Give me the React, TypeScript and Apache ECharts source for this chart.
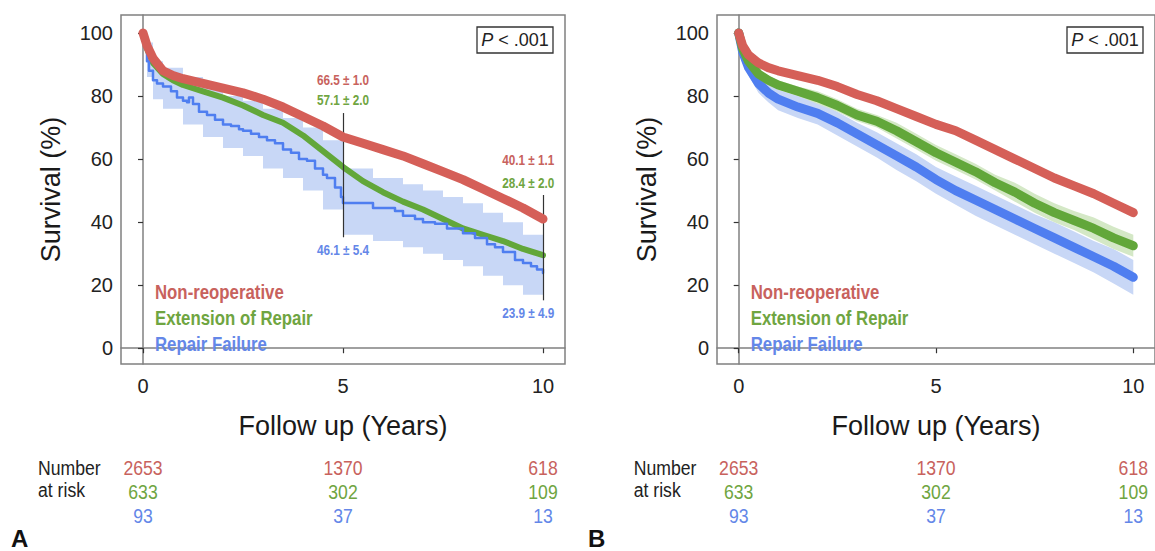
import React, { useEffect, useRef } from "react";
import * as echarts from "echarts";

// ---------- data ----------
const groups = ["Non-reoperative", "Extension of Repair", "Repair Failure"];
const lineColors = ["#d55f58", "#62a73a", "#4f7ef0"];
const textColors = ["#c8625d", "#6fa541", "#6487e8"];
const bandColors = ["#f1c9c4", "#d4e8c6", "#c8d7f6"];

const xTicks = [0, 5, 10];
const yTicks = [0, 20, 40, 60, 80, 100];

// Panel A
const timeA = [0, 0.1, 0.25, 0.5, 0.75, 1, 1.5, 2, 2.5, 3, 3.5, 4, 4.5, 5, 5.5, 6, 6.5, 7, 7.5, 8, 8.5, 9, 9.5, 10];
const redA = [100, 96, 92, 88, 86.5, 85.5, 84, 82.5, 81, 79, 76.5, 73.5, 70.5, 67, 65, 63, 61, 58.5, 56, 53.5, 50.5, 47.5, 44.5, 41];
const greenA = [100, 95, 90.5, 87, 85, 83.5, 81.5, 79.5, 77, 74, 71.5, 67.5, 62.5, 57.5, 53, 49.5, 46.5, 44, 41, 38, 36, 34, 31.5, 29.5];

const blueTimeA = [0, 0.05, 0.1, 0.15, 0.25, 0.35, 0.5, 0.7, 0.85, 1.0, 1.1, 1.15, 1.25, 1.4, 1.6, 1.8, 2.0, 2.2, 2.4, 2.5, 2.7, 2.9, 3.1, 3.3, 3.5, 3.7, 3.9, 4.1, 4.3, 4.5, 4.6, 4.8, 4.95, 5.0, 5.75, 6.3, 6.5, 6.8, 7.0, 7.3, 7.6, 8.0, 8.3, 8.6, 8.8, 9.0, 9.3, 9.5, 9.7, 9.85, 10];
const blueA = [100, 96, 91, 88, 85, 84, 83, 81.5, 79.5, 78.5, 78, 79.5, 77.5, 75, 74, 72.5, 71, 70.5, 69.5, 69, 68, 67, 66, 65, 63, 62, 60, 59.5, 57, 55, 54, 51, 48, 46.1, 44.5, 43.5, 42, 41, 40, 39.5, 38, 36.5, 35, 33, 32, 30.5, 28, 27, 26, 25, 23.9];

const blueBandTimeA = [0, 0.1, 0.25, 0.5, 1, 1.5, 2, 2.5, 3, 3.5, 4, 4.5, 5, 5.75, 6.5, 7, 7.5, 8, 8.5, 9, 9.5, 10];
const blueLoA = [100, 86, 79, 76, 71, 67, 63.5, 61, 57, 54, 50, 44, 36, 34, 32, 30, 28, 26, 23, 20, 17, 14];
const blueHiA = [100, 97, 91, 89, 86, 83, 80, 78.5, 76, 73, 70, 66, 57, 54, 52, 50, 48, 46, 43, 40, 36, 34];

// Panel A annotations (estimates at 5 and 10 years)
const annotTextA = ["66.5 ± 1.0", "57.1 ± 2.0", "46.1 ± 5.4", "40.1 ± 1.1", "28.4 ± 2.0", "23.9 ± 4.9"];
const annotXA = [5, 5, 5, 9.63, 9.63, 9.63];
const annotYA = [85.1, 78.7, 31.1, 59.7, 52.4, 11.1];
const annotGroupA = [0, 1, 2, 0, 1, 2];
const refLineX = [5, 10];
const refLineTop = [74.6, 48.6];
const refLineBottom = [35.2, 15.2];

// Panel B
const timeB = [0, 0.1, 0.25, 0.5, 0.75, 1, 1.5, 2, 2.5, 3, 3.5, 4, 4.5, 5, 5.5, 6, 6.5, 7, 7.5, 8, 8.5, 9, 9.5, 10];
const redB = [100, 96, 93, 90.5, 89, 88, 86.5, 85, 83, 80.5, 78.5, 76, 73.5, 71, 69, 66, 63, 60, 57, 54, 51.5, 49, 46, 43];
const greenB = [100, 95, 91, 87, 85, 83.5, 81.5, 79.5, 77, 74, 72, 69, 65.5, 62, 59, 56, 52.5, 49.5, 46, 43, 40.5, 38, 35, 32.5];
const blueB = [100, 94, 89, 84, 81, 79, 76.5, 74.5, 71.5, 68, 64.5, 61, 57.5, 53.5, 50, 47, 44, 41, 38, 35, 32, 29, 26, 22.5];
const greenLoB = [100, 94, 89.5, 85.5, 83.5, 82, 80, 77.5, 75, 72, 70, 66.5, 63, 59.5, 56.5, 53.5, 50, 46.5, 43, 40, 37.5, 34.5, 31.5, 29];
const greenHiB = [100, 96, 92.5, 88.5, 86.5, 85, 83, 81.5, 79, 76, 74, 71.5, 68, 64.5, 61.5, 58.5, 55, 52.5, 49, 46, 43.5, 41.5, 38.5, 36];
const blueLoB = [100, 92, 86.5, 81, 78, 75.5, 73, 71, 67.5, 64, 60.5, 56.5, 53, 49, 45.5, 42, 39, 36, 33, 30, 27, 24, 20.5, 17];
const blueHiB = [100, 96, 91.5, 86.5, 84, 82, 80, 78, 75, 71.5, 68.5, 65, 61.5, 57.5, 54.5, 51.5, 48.5, 45.5, 42.5, 40, 37, 34, 31.5, 28];

// Number at risk
const riskTimes = [0, 5, 10];
const riskCounts = [
  [2653, 1370, 618],
  [633, 302, 109],
  [93, 37, 13],
];

const SANS = '"Liberation Sans", Arial, Helvetica, sans-serif';
const NARROW_SCALE = 0.84;

const zip = (xs: number[], ys: number[]) => xs.map((x, i) => [x, ys[i]]);

// confidence band drawn as one polygon through the axes' own scale
function bandSeries(idx: number, xs: number[], lo: number[], hi: number[], color: string, step: boolean) {
  return {
    type: "custom", xAxisIndex: idx, yAxisIndex: idx, clip: true, silent: true, z: 1,
    data: xs.map((x, i) => [x, lo[i], hi[i]]),
    encode: { x: 0, y: [1, 2] },
    renderItem: (params: any, api: any) => {
      if (params.dataIndex !== 0) return null;
      const upper: number[][] = [];
      const lower: number[][] = [];
      for (let i = 0; i < xs.length; i++) {
        upper.push(api.coord([xs[i], hi[i]]));
        lower.push(api.coord([xs[i], lo[i]]));
        if (step && i < xs.length - 1) {
          upper.push(api.coord([xs[i + 1], hi[i]]));
          lower.push(api.coord([xs[i + 1], lo[i]]));
        }
      }
      const points = upper.concat(lower.reverse());
      return { type: "polygon", shape: { points }, style: { fill: color, stroke: "none" } };
    },
  };
}

function lineSeries(idx: number, xs: number[], ys: number[], color: string, width: number, step: any, z: number) {
  return {
    type: "line", xAxisIndex: idx, yAxisIndex: idx, data: zip(xs, ys), step,
    showSymbol: false, symbol: "none", lineStyle: { color, width, cap: "round", join: "round" }, z,
  };
}

function xAxis(idx: number) {
  return {
    type: "value", gridIndex: idx, min: -0.55, max: 10.55,
    name: "Follow up (Years)", nameLocation: "middle", nameGap: 48,
    nameTextStyle: { fontFamily: SANS, fontSize: 27, color: "#1a1a1a" },
    axisLine: { show: true, lineStyle: { color: "#808080", width: 1.5 } },
    axisTick: { show: true, customValues: xTicks, length: 5, lineStyle: { color: "#333", width: 1.2 } },
    axisLabel: { customValues: xTicks, fontFamily: SANS, fontSize: 20, color: "#222", margin: 12 },
    splitLine: { show: false },
  };
}

function yAxis(idx: number) {
  return {
    type: "value", gridIndex: idx, min: -5, max: 105.7,
    name: "Survival (%)", nameLocation: "middle", nameGap: 57, nameRotate: 90,
    nameTextStyle: { fontFamily: SANS, fontSize: 27, color: "#1a1a1a" },
    axisLine: { show: true, lineStyle: { color: "#808080", width: 1.5 } },
    axisTick: { show: true, customValues: yTicks, length: 5, lineStyle: { color: "#333", width: 1.2 } },
    axisLabel: { customValues: yTicks, fontFamily: SANS, fontSize: 20, color: "#222", margin: 8 },
    splitLine: { show: false },
  };
}

export default function App() {
  const ref = useRef<HTMLDivElement>(null);

  useEffect(() => {
    if (!ref.current) return;
    const chart = echarts.init(ref.current, undefined, { renderer: "svg" });

    const series: any[] = [
      // Panel A
      bandSeries(0, blueBandTimeA, blueLoA, blueHiA, bandColors[2], true),
      lineSeries(0, timeA, greenA, lineColors[1], 6, false, 3),
      lineSeries(0, blueTimeA, blueA, lineColors[2], 2.5, "end", 4),
      {
        ...lineSeries(0, timeA, redA, lineColors[0], 9, false, 5),
        markLine: {
          silent: true, symbol: ["none", "none"], label: { show: false },
          lineStyle: { color: "#333", width: 1.2, type: "solid" },
          data: refLineX.map((x, i) => [{ coord: [x, refLineTop[i]] }, { coord: [x, refLineBottom[i]] }]),
        },
      },
      // Panel B
      bandSeries(1, timeB, blueLoB, blueHiB, bandColors[2], false),
      bandSeries(1, timeB, greenLoB, greenHiB, bandColors[1], false),
      lineSeries(1, timeB, blueB, lineColors[2], 9, false, 3),
      lineSeries(1, timeB, greenB, lineColors[1], 9, false, 4),
      lineSeries(1, timeB, redB, lineColors[0], 9, false, 5),
    ];

    chart.setOption({
      animation: false,
      backgroundColor: "#ffffff",
      grid: [
        { left: 121, top: 15, width: 444, height: 349, show: true, borderColor: "#808080", borderWidth: 1.5, containLabel: false },
        { left: 717, top: 15, width: 444, height: 349, show: true, borderColor: "#808080", borderWidth: 1.5, containLabel: false },
      ],
      xAxis: [xAxis(0), xAxis(1)],
      yAxis: [yAxis(0), yAxis(1)],
      series,
    });

    // texts placed from the axes' own scales
    const graphic: any[] = [];
    [0, 1].forEach((g) => {
      const px = (t: number) => chart.convertToPixel({ xAxisIndex: g }, t) as number;
      const py = (v: number) => chart.convertToPixel({ yAxisIndex: g }, v) as number;
      const x0 = px(0);
      // estimate annotations (panel A only)
      if (g === 0) {
        annotTextA.forEach((t, i) => {
          graphic.push({
            type: "text", x: px(annotXA[i]), y: py(annotYA[i]), scaleX: NARROW_SCALE, z: 52,
            style: {
              text: t, fontFamily: SANS, fontWeight: "bold", fontSize: 14, fill: textColors[annotGroupA[i]],
              align: "center", verticalAlign: "middle",
            },
          });
        });
      }
      // legend
      groups.forEach((name, i) => {
        graphic.push({
          type: "text", x: x0 + 12, y: py(17.9 - i * 8.25), scaleX: NARROW_SCALE, z: 50,
          style: {
            text: name, fontFamily: SANS, fontWeight: "bold", fontSize: 20, fill: textColors[i],
            verticalAlign: "middle",
          },
        });
      });
      // P box
      const right = px(10.55);
      const top = py(105.7);
      graphic.push({
        type: "rect", z: 50,
        shape: { x: right - 88, y: top + 12, width: 76, height: 26 },
        style: { fill: "#fff", stroke: "#333", lineWidth: 1.3 },
      });
      graphic.push({
        type: "text", z: 51, x: right - 50, y: top + 25,
        style: {
          text: "{i|P}{n| < .001}", align: "center", verticalAlign: "middle",
          rich: {
            i: { fontFamily: SANS, fontStyle: "italic", fontSize: 18, fill: "#222" },
            n: { fontFamily: SANS, fontSize: 18, fill: "#222" },
          },
        },
      });
      // number at risk
      graphic.push({
        type: "text", x: x0 - 105, y: 467, scaleX: NARROW_SCALE, z: 50,
        style: { text: "Number", fontFamily: SANS, fontSize: 21, fill: "#222", verticalAlign: "middle" },
      });
      graphic.push({
        type: "text", x: x0 - 105, y: 489, scaleX: NARROW_SCALE, z: 50,
        style: { text: "at risk", fontFamily: SANS, fontSize: 21, fill: "#222", verticalAlign: "middle" },
      });
      riskCounts.forEach((row, r) => {
        row.forEach((n, c) => {
          graphic.push({
            type: "text", x: px(riskTimes[c]), y: 467 + r * 24, scaleX: NARROW_SCALE, z: 50,
            style: {
              text: String(n), fontFamily: SANS, fontSize: 21, fill: textColors[r],
              align: "center", verticalAlign: "middle",
            },
          });
        });
      });
      // panel label
      graphic.push({
        type: "text", x: g === 0 ? 11 : 588, y: 538, z: 50,
        style: { text: g === 0 ? "A" : "B", fontFamily: SANS, fontWeight: "bold", fontSize: 24, fill: "#111", verticalAlign: "middle" },
      });
    });
    chart.setOption({ graphic });

    return () => chart.dispose();
  }, []);

  return (
    <div
      ref={ref}
      style={{ position: "fixed", left: 0, top: 0, width: 1155, height: 551, background: "#fff" }}
    />
  );
}
